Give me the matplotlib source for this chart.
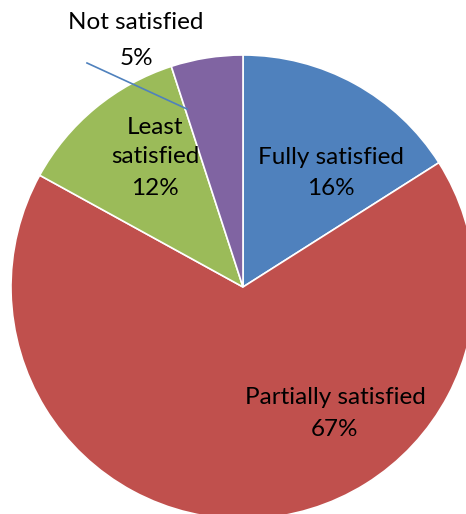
import numpy as np
import matplotlib.pyplot as plt

plt.rcParams['font.family'] = ['Lato', 'DejaVu Sans']

categories = ['Fully satisfied', 'Partially satisfied', 'Least\nsatisfied', 'Not satisfied']
shares = [16, 67, 12, 5]
colors = ['#4F81BD', '#C0504D', '#9BBB59', '#8064A2']

# pixel layout of the reference: centre (243, 287), radius 232
W, H = 466, 514
cx, cy, r = 243., 287., 232.

def to_data(px, py):
    return (px - cx) / r, (cy - py) / r

fig = plt.figure(figsize=(W / 100., H / 100.), dpi=100)
ax = fig.add_axes([0, 0, 1, 1])
ax.pie(shares, colors=colors, startangle=90, counterclock=False, radius=1,
       wedgeprops=dict(edgecolor='white', linewidth=1.2))

ax.set_xlim(-cx / r, (W - cx) / r)
ax.set_ylim((cy - H) / r, cy / r)
ax.set_aspect('equal')
ax.axis('off')

# label positions (pixels): name line centre, value line centre
label_pos = [(331, 157, 188), (335, 397, 429), (155, 142, 188), (136, 22, 58)]
for name, val, (px, py_name, py_val) in zip(categories, shares, label_pos):
    x, y = to_data(px, py_name)
    ax.text(x, y, name, ha='center', va='center', fontsize=17.5,
            linespacing=1.45, color='black')
    x, y = to_data(px, py_val)
    ax.text(x, y, '%d%%' % val, ha='center', va='center', fontsize=17.5,
            color='black')

# leader line for the small slice
x0, y0 = to_data(87, 63)
x1, y1 = to_data(187, 109)
ax.plot([x0, x1], [y0, y1], color='#4F81BD', linewidth=1.2)

plt.savefig('out.png', dpi=100)
